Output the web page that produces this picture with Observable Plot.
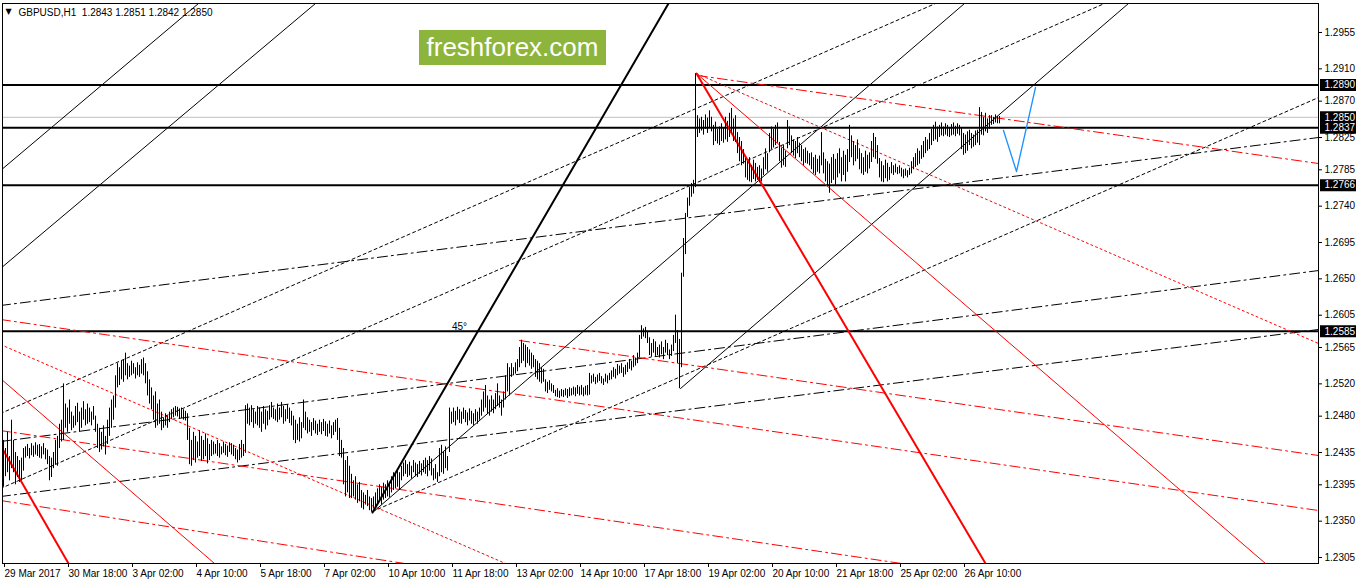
<!DOCTYPE html>
<html><head><meta charset="utf-8">
<script src="https://cdn.jsdelivr.net/npm/d3@7"></script>
<script src="https://cdn.jsdelivr.net/npm/@observablehq/plot@0.6"></script>
<style>
html,body{margin:0;padding:0;background:#fff;}
#wrap{position:relative;width:1358px;height:584px;overflow:hidden;}
#logo{position:absolute;left:419px;top:30px;width:187px;height:35px;background:#8db53c;color:#fff;font:26px "Liberation Sans",Arial,sans-serif;line-height:35px;text-align:center;}
</style></head><body><div id="wrap"><div id="chart"></div><div id="logo">freshforex.com</div></div>
<script>
const symbolTitle = "GBPUSD,H1  1.2843 1.2851 1.2842 1.2850";
const basePrice = 1.23; // bar values below are in pips above this price
const highs = [150,140,160,130,175,150,135,130,125,128,140,142,145,140,146,143,147,144,145,142,146,140,138,130,128,135,150,155,170,175,
220,195,190,200,185,180,192,196,185,190,198,188,195,190,185,192,180,170,165,160,168,155,175,190,200,205,230,245,240,248,
250,258,245,242,248,245,240,246,243,250,252,245,235,225,215,205,210,195,200,185,178,183,180,185,188,190,192,191,189,190,
188,186,183,165,150,160,155,148,162,155,150,158,152,145,150,148,145,150,146,142,148,145,143,147,146,144,140,138,145,150,
145,193,195,190,193,188,185,192,190,185,192,188,186,193,197,190,188,195,190,197,192,188,194,190,186,180,175,170,178,172,
200,185,178,175,172,177,174,170,175,172,176,173,170,174,168,172,175,177,165,150,140,125,130,118,108,100,105,95,98,88,
85,82,88,80,78,80,85,90,95,92,97,95,100,96,105,110,108,113,110,118,122,125,120,123,118,125,122,120,124,121,
125,128,125,130,127,115,120,110,140,144,135,142,130,190,185,190,186,191,188,185,190,187,184,189,186,183,188,185,190,200,
210,218,205,200,205,200,208,220,205,200,210,230,245,240,245,240,246,250,265,274,270,268,265,262,258,255,250,248,245,240,
238,225,222,224,220,218,212,214,211,213,212,214,213,215,214,216,215,218,216,218,215,217,218,233,230,232,228,231,233,229,
226,232,230,233,236,240,238,244,242,245,240,243,246,250,248,255,252,258,280,292,288,290,285,277,270,275,272,265,268,272,
265,274,270,262,268,280,305,286,275,357,400,431,450,463,468,472,604,552,548,550,546,553,549,558,550,540,544,535,538,542,
536,550,545,555,561,548,552,531,525,520,510,499,495,500,490,497,493,488,490,486,500,511,505,530,538,535,540,543,519,512,
515,508,546,538,527,522,520,525,518,515,510,512,508,505,506,500,503,498,502,531,506,498,495,492,500,504,498,505,511,500,
508,503,510,540,527,520,515,522,511,505,500,508,503,506,520,530,525,515,499,495,490,497,493,488,494,490,492,488,490,487,
485,486,484,487,495,500,505,511,508,515,520,525,522,530,535,540,544,538,540,543,538,542,540,537,541,543,539,542,540,536,
530,528,532,534,530,528,533,534,562,556,550,555,548,552,552,550,553,551,551];
const lows = [92,105,110,100,115,110,95,104,98,100,112,128,130,127,131,129,132,130,128,127,132,126,120,100,104,115,120,118,140,148,
150,165,160,170,162,165,168,172,160,165,175,168,170,172,168,175,160,140,135,138,142,132,145,155,165,175,190,215,218,225,
222,230,225,228,230,232,226,230,228,232,230,220,205,195,188,175,165,168,170,162,165,168,165,172,176,178,180,179,176,177,
175,174,150,120,118,125,122,128,130,124,126,130,121,125,130,132,133,130,128,132,134,131,129,135,132,130,126,122,125,128,
130,134,170,168,172,165,170,168,165,160,170,163,168,175,178,176,174,172,175,178,170,173,176,171,168,150,146,150,148,152,
165,162,158,160,155,162,158,156,160,157,161,155,154,158,152,156,160,150,130,128,95,80,85,78,78,80,76,72,74,66,
64,70,68,63,61,65,68,72,75,70,76,78,80,79,85,88,90,92,88,100,105,108,104,106,102,110,105,104,108,106,
110,108,105,112,106,100,102,98,105,110,108,115,112,135,170,172,168,175,171,170,176,172,168,174,170,168,173,170,175,180,
185,190,182,180,185,183,188,192,190,180,190,200,210,205,228,230,232,235,240,245,248,240,245,242,238,240,228,225,222,220,
222,210,208,212,210,208,204,203,202,204,203,205,202,204,205,206,204,207,205,206,204,206,205,206,220,222,219,221,223,220,
218,222,220,224,225,228,226,230,232,233,228,231,234,238,236,240,242,245,252,275,278,276,270,255,253,258,254,255,252,256,
250,258,255,250,254,260,270,245,214,240,352,380,426,440,451,455,463,525,530,533,528,535,530,536,532,515,520,517,515,520,
518,522,519,525,530,520,519,505,495,490,492,475,472,470,469,473,470,472,469,470,478,485,482,506,510,512,515,518,495,487,
490,488,511,515,505,502,499,505,500,495,490,493,492,490,485,480,478,482,480,490,480,470,465,456,468,472,466,475,480,470,
478,470,482,494,500,490,495,498,485,480,478,482,480,486,494,500,498,492,475,470,469,474,470,472,480,478,481,479,480,476,
474,477,475,478,480,485,488,490,492,498,500,505,508,510,515,520,522,519,525,527,526,528,526,525,527,528,526,529,527,510,
503,505,508,515,511,513,515,518,515,528,527,532,530,535,540,541,543,542,542];

const timeTicks = [0,32,64,96,128,160,192,224,256,288,320,352,384,416,448,480];
const timeLabels = ["29 Mar 2017","30 Mar 18:00","3 Apr 02:00","4 Apr 10:00","5 Apr 18:00","7 Apr 02:00","10 Apr 10:00","11 Apr 18:00","13 Apr 02:00","14 Apr 10:00","17 Apr 18:00","19 Apr 02:00","20 Apr 10:00","21 Apr 18:00","25 Apr 02:00","26 Apr 10:00"];
const priceTicks = [1.2955,1.2910,1.2870,1.2825,1.2785,1.2740,1.2695,1.2650,1.2605,1.2565,1.2520,1.2480,1.2435,1.2395,1.2350,1.2305];
const levels = [1.2890,1.2837,1.2766,1.2585];
const bidPrice = 1.2850;
const markedPrices = [1.2890,1.2850,1.2837,1.2766,1.2585];

// trend lines: [barIndex1, price1, barIndex2, price2]
const blackThick = [[184.5,1.23607,332.5,1.29909]];
const blackThin = [[-1.5,1.27841,97.5,1.29909],[-1.5,1.26628,156,1.29909],[184.5,1.23607,480.5,1.29909],[338.5,1.25142,562.5,1.29909]];
const blackDotted = [[-1.5,1.24833,466,1.29909],[-1.5,1.23904,550.5,1.29909],[184.5,1.23620,657.5,1.28745]];
const blackDashDot = [[-1.5,1.26170,657.5,1.28250],[-1.5,1.24486,657.5,1.26603],[-1.5,1.23805,657.5,1.25873]];
const redThick = [[-1.5,1.24437,32.5,1.22976],[346.5,1.29042,491,1.22976]];
const redThin = [[-1.5,1.25266,105.5,1.22976],[346.5,1.29042,631,1.22976]];
const redDotted = [[346.5,1.29042,657.5,1.25700],[-1.5,1.25687,251,1.22976]];
const redDashDot = [[347,1.29018,657.5,1.27928],[258,1.25737,657.5,1.24313],[-1.5,1.25997,657.5,1.23632],[-1.5,1.24622,449,1.22976],[-1.5,1.23756,200.5,1.22976]];
const blueProjection = [[500,1.28337],[506.5,1.27829],[516,1.28869]];
const angleLabel = [{i:228, p:1.2591, text:"45°"}];

const bars = highs.map((h,i)=>({i, hi: basePrice + h/10000, lo: basePrice + lows[i]/10000}));
const seg = arr => arr.flatMap((s,k)=>[{k,x:s[0],y:s[1]},{k,x:s[2],y:s[3]}]);
const labelOf = new Map(timeTicks.map((t,k)=>[t,timeLabels[k]]));

const lineMark = (arr, opts) => Plot.line(seg(arr), {x:"x", y:"y", z:"k", clip:true, ...opts});

const chart = Plot.plot({
  width: 1358, height: 584,
  marginLeft: 2, marginRight: 40, marginTop: 3, marginBottom: 21,
  style: {fontFamily: "'Liberation Sans', Arial, sans-serif", fontSize: "10px", background: "#fff", color: "#000"},
  x: {domain: [-0.5, 657.5]},
  y: {domain: [1.22976, 1.29909]},
  marks: [
    Plot.ruleY([bidPrice], {stroke: "#c0c0c0", strokeWidth: 1}),
    Plot.ruleY(levels, {stroke: "#000", strokeWidth: 2}),
    lineMark(blackDashDot, {stroke:"#000", strokeWidth:1, strokeDasharray:"10,4,2,4"}),
    lineMark(blackDotted, {stroke:"#000", strokeWidth:1, strokeDasharray:"3,3"}),
    lineMark(blackThin, {stroke:"#000", strokeWidth:1}),
    lineMark(blackThick, {stroke:"#000", strokeWidth:2}),
    lineMark(redDashDot, {stroke:"#ff0000", strokeWidth:1, strokeDasharray:"10,4,2,4"}),
    lineMark(redDotted, {stroke:"#ff0000", strokeWidth:1, strokeDasharray:"2,3"}),
    lineMark(redThin, {stroke:"#ff0000", strokeWidth:1}),
    lineMark(redThick, {stroke:"#ff0000", strokeWidth:2}),
    Plot.ruleX(bars, {x:"i", y1:"lo", y2:"hi", stroke:"#000", strokeWidth:1}),
    Plot.line(blueProjection, {x: d=>d[0], y: d=>d[1], stroke:"#1e90ff", strokeWidth:1.3}),
    Plot.text(angleLabel, {x:"i", y:"p", text:"text", fontSize: 10, fill:"#000"}),
    Plot.text([symbolTitle], {frameAnchor:"top-left", dx:16, dy:5, textAnchor:"start", fontSize:10, fill:"#000"}),
    Plot.text(["▼"], {frameAnchor:"top-left", dx:3, dy:5, textAnchor:"start", fontSize:8, fontFamily:"DejaVu Sans", fill:"#000"}),
    Plot.frame({stroke:"#000"}),
    Plot.axisY(priceTicks, {anchor:"right", tickSize:3, tickPadding:3, tickFormat: d=>d.toFixed(4)}),
    Plot.axisX(timeTicks, {anchor:"bottom", tickSize:4, tickPadding:2, textAnchor:"start", dx:1, tickFormat: d=>labelOf.get(d)}),
    Plot.ruleY(markedPrices, {y: d=>d, insetLeft:1318, insetRight:-38, stroke:"#000", strokeWidth:12}),
    Plot.text(markedPrices, {y: d=>d, text: d=>d.toFixed(4), frameAnchor:"right", dx:6, textAnchor:"start", fill:"#fff"})
  ]
});
document.getElementById("chart").appendChild(chart);
</script></body></html>
